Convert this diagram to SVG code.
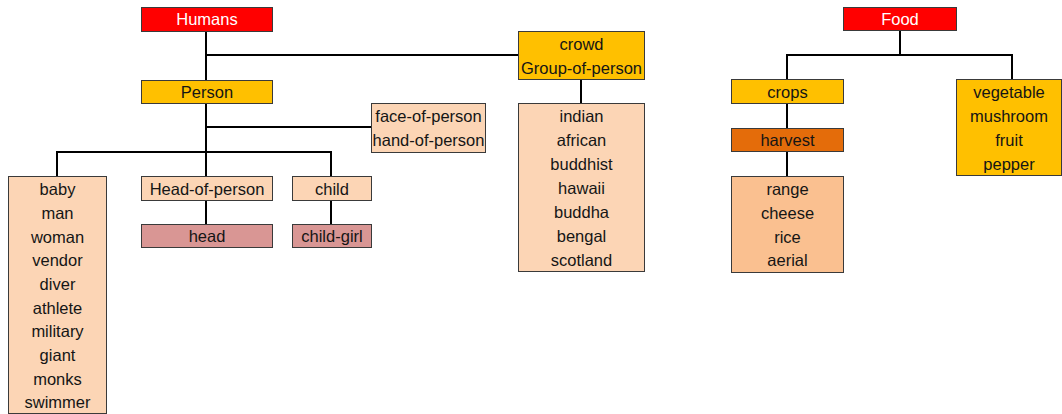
<svg xmlns="http://www.w3.org/2000/svg" width="1062" height="414" viewBox="0 0 1062 414">
<style>
rect{stroke:#3a3a3a;stroke-width:1}
.red{fill:#ff0000}
.gold{fill:#ffc000}
.peach{fill:#fcd5b5}
.rose{fill:#d99694}
.dorange{fill:#e46c0a}
.lorange{fill:#fac090}
text{font-family:"Liberation Sans",Arial,sans-serif;font-size:16.5px;fill:#151515;text-anchor:middle}
text.w{fill:#ffffff}
#connectors path{fill:none;stroke:#000;stroke-width:2}
</style>
<rect width="1062" height="414" fill="#ffffff" style="stroke:none"/>
<g id="connectors">
<path d="M206 31V80M206 55H518"/>
<path d="M206 103V176M206 127H371"/>
<path d="M57 176V152H331V176"/>
<path d="M206 200V224"/>
<path d="M331 200V224"/>
<path d="M581 79V103"/>
<path d="M900 31V55M787 79V55H1012V79"/>
<path d="M787 103V128"/>
<path d="M787 152V176"/>
</g>
<g id="humans"><rect class="red" x="141.5" y="7.5" width="131" height="24"/><text class="w" x="207" y="25">Humans</text></g>
<g id="person"><rect class="gold" x="141.5" y="80.5" width="131" height="23"/><text x="207" y="98">Person</text></g>
<g id="face-hand"><rect class="peach" x="371.5" y="103.5" width="114" height="49"/><text x="428.5" y="122">face-of-person</text><text x="428.5" y="146">hand-of-person</text></g>
<g id="person-list"><rect class="peach" x="8.5" y="176.5" width="98" height="237"/>
<text x="57.5" y="195">baby</text><text x="57.5" y="219">man</text><text x="57.5" y="243">woman</text><text x="57.5" y="266">vendor</text><text x="57.5" y="290">diver</text><text x="57.5" y="314">athlete</text><text x="57.5" y="337">military</text><text x="57.5" y="361">giant</text><text x="57.5" y="385">monks</text><text x="57.5" y="408">swimmer</text></g>
<g id="head-of-person"><rect class="peach" x="141.5" y="176.5" width="131" height="24"/><text x="207" y="195">Head-of-person</text></g>
<g id="child"><rect class="peach" x="292.5" y="176.5" width="79" height="24"/><text x="332" y="195">child</text></g>
<g id="head"><rect class="rose" x="141.5" y="224.5" width="131" height="23"/><text x="207" y="242">head</text></g>
<g id="child-girl"><rect class="rose" x="292.5" y="224.5" width="79" height="23"/><text x="332" y="242">child-girl</text></g>
<g id="crowd"><rect class="gold" x="518.5" y="31.5" width="126" height="48"/><text x="581.5" y="50">crowd</text><text x="581.5" y="74">Group-of-person</text></g>
<g id="crowd-list"><rect class="peach" x="518.5" y="103.5" width="126" height="168"/>
<text x="581.5" y="122">indian</text><text x="581.5" y="146">african</text><text x="581.5" y="170">buddhist</text><text x="581.5" y="194">hawaii</text><text x="581.5" y="218">buddha</text><text x="581.5" y="242">bengal</text><text x="581.5" y="266">scotland</text></g>
<g id="food"><rect class="red" x="843.5" y="7.5" width="113" height="23"/><text class="w" x="900" y="25">Food</text></g>
<g id="crops"><rect class="gold" x="731.5" y="79.5" width="112" height="24"/><text x="787.5" y="98">crops</text></g>
<g id="harvest"><rect class="dorange" x="731.5" y="128.5" width="112" height="23"/><text x="787.5" y="146">harvest</text></g>
<g id="harvest-list"><rect class="lorange" x="731.5" y="176.5" width="112" height="96"/>
<text x="787.5" y="195">range</text><text x="787.5" y="219">cheese</text><text x="787.5" y="243">rice</text><text x="787.5" y="266">aerial</text></g>
<g id="food-list"><rect class="gold" x="956.5" y="79.5" width="105" height="96"/>
<text x="1009" y="98">vegetable</text><text x="1009" y="122">mushroom</text><text x="1009" y="146">fruit</text><text x="1009" y="170">pepper</text></g>
</svg>
